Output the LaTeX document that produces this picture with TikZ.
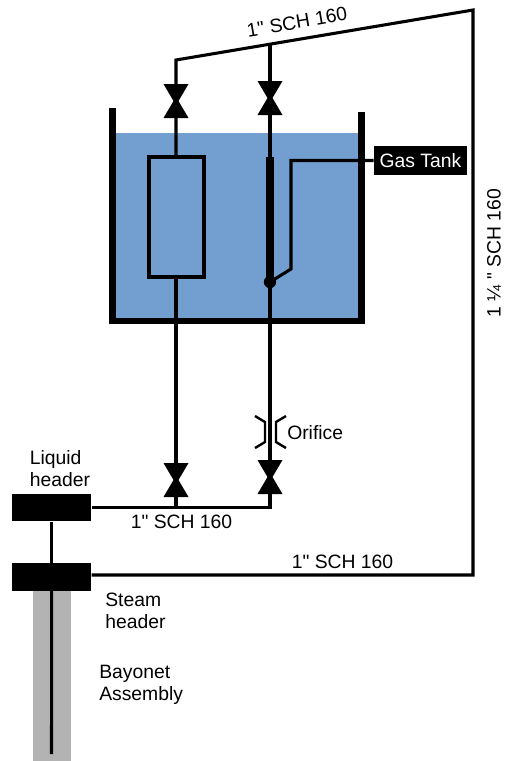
\documentclass[tikz,border=0pt]{standalone}
\usepackage{fontspec}
\setmainfont[Ligatures=TeXOff]{Liberation Sans}
\definecolor{water}{HTML}{729FCF}
\definecolor{bayonet}{HTML}{B3B3B3}
\tikzset{
  pipe/.style={line width=2.3pt,line join=miter},
  label/.style={inner sep=0pt,align=left,anchor=west,font=\fontsize{14.5}{17}\selectfont},
  header/.style={fill=black,minimum width=59.6pt,minimum height=20.6pt,inner sep=0pt},
  valve/.pic={\fill (-12.5,-17) -- (12.5,-17) -- (2.5,0) -- (12.5,17) -- (-12.5,17) -- (-2.5,0) -- cycle;}
}

\begin{document}
\begin{tikzpicture}[x=0.75pt,y=-0.75pt]
  \useasboundingbox (0,0) rectangle (506,761);
  % tank and bayonet
  \fill[water] (115,133) rectangle (359,318);
  \fill[bayonet] (33,585) rectangle (70.5,761);
  \draw[line width=4.6pt,line join=miter] (112.5,108) -- (112.5,321) -- (361.5,321) -- (361.5,112);

  \node[header] (liquid) at (51.7,507.5) {};
  \node[header] (steam) at (51.7,577) {};
  \node[fill=black,text=white,inner sep=0pt,minimum width=69.8pt,minimum height=21.8pt,font=\fontsize{14.5}{17}\selectfont] (gas) at (420.5,160.5) {Gas Tank};

  \coordinate (topleft) at (176,60);
  \coordinate (topright) at (473,10);
  \coordinate (topmid) at (270,44.2);
  \coordinate (botright) at (473,575);
  \coordinate (botmid) at (272,507.5);
  \coordinate (botleft) at (176,507.5);
  \coordinate (coilbot) at (176,277);
  \coordinate (coiltop) at (176,157);
  \coordinate (probe) at (270,282);
  \coordinate (bend) at (291,269);
  \coordinate (corner) at (291,160.5);
  \coordinate (bayonetend) at (51.5,754);

  % piping
  \draw[pipe] (steam.east |- botright) -- (botright) -- (topright) -- (topleft) -- (coiltop);
  \draw[pipe] (topmid) -- (270,507.5);
  \draw[pipe] (coilbot) -- (botleft);
  \draw[pipe] (liquid.east) -- (botmid);
  \draw[pipe] (liquid) -- (steam);
  \draw[pipe] (steam) -- (bayonetend);
  \draw[pipe] (149,157) rectangle (204,277);

  % gas probe
  \draw[line width=5.4pt] (270,157) -- (probe);
  \fill (probe) circle (6.2);
  \draw[pipe] (probe) -- (bend) -- (corner) -- (gas.west);

  % valves
  \pic at (176,101) {valve};
  \pic at (270,98) {valve};
  \pic at (176,480) {valve};
  \pic at (270,477) {valve};

  % orifice
  \draw[pipe,line width=1.8pt] (255,416) -- (265,422) -- (265,442) -- (255,448);
  \draw[pipe,line width=1.8pt] (286,416) -- (276,422) -- (276,442) -- (286,448);

  \node[label] (orificelabel) at (287,433) {Orifice};
  \node[label] (liquidlabel) at (29.5,468.5) {Liquid\\header};
  \node[label] (steamlabel) at (105,611) {Steam\\header};
  \node[label] (bayonetlabel) at (99,685) {Bayonet\\Assembly};
  \node[label,anchor=center] (botlabel) at (181.5,522) {1" SCH 160};
  \node[label,anchor=center] (steamline) at (342.5,562) {1" SCH 160};
  \node[label,anchor=center,rotate=9.6] (toplabel) at (297,22) {1" SCH 160};
  \node[label,anchor=center,rotate=90] (sidelabel) at (494,253) {1 ¼ " SCH 160};
\end{tikzpicture}
\end{document}
